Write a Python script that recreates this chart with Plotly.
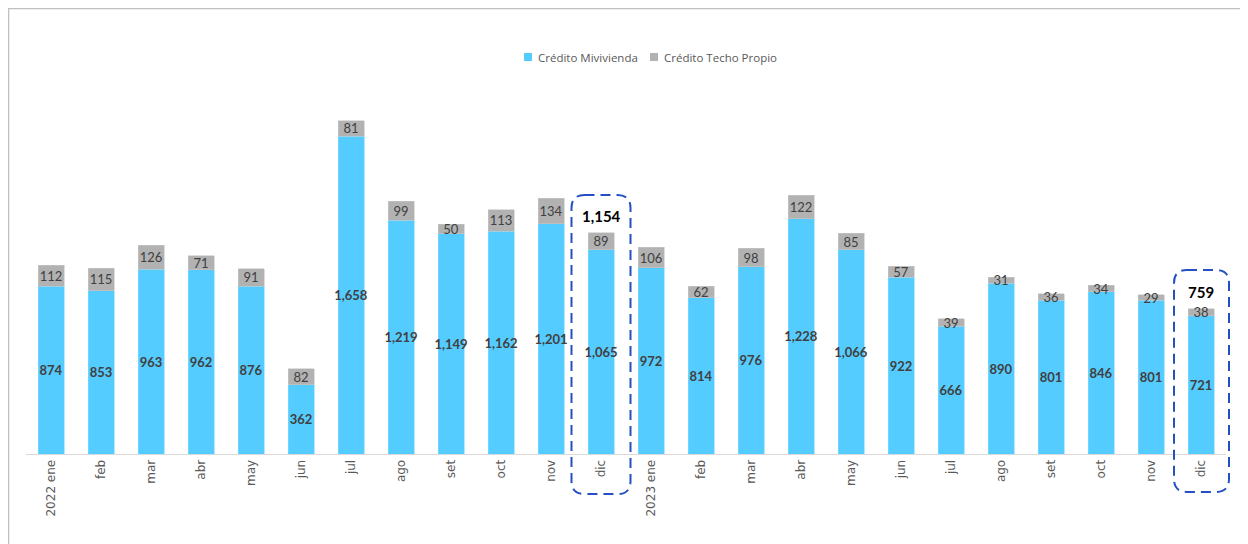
import plotly.graph_objects as go

months = ["ene", "feb", "mar", "abr", "may", "jun", "jul", "ago", "set", "oct", "nov", "dic"]
tick_labels = ["2022 ene"] + months[1:] + ["2023 ene"] + months[1:]
mivivienda = [874, 853, 963, 962, 876, 362, 1658, 1219, 1149, 1162, 1201, 1065,
              972, 814, 976, 1228, 1066, 922, 666, 890, 801, 846, 801, 721]
techo_propio = [112, 115, 126, 71, 91, 82, 81, 99, 50, 113, 134, 89,
                106, 62, 98, 122, 85, 57, 39, 31, 36, 34, 29, 38]
series_names = ["Crédito Mivivienda", "Crédito Techo Propio"]
series_colors = ["#55CCFF", "#B2B2B2"]
highlight_idx = [11, 23]

idx = list(range(len(tick_labels)))
totals = [a + b for a, b in zip(mivivienda, techo_propio)]

YMAX = 1899
N = len(idx)

# layout geometry (pixels)
ML, MR, MT, MB = 18, 30, 82, 98
W, H = 1248, 544
PW = W - ML - MR
PH = H - MT - MB


def px_x(px):
    return (px - ML) / PW


def px_y(py):
    return (H - MB - py) / PH


LABEL_FONT = "Liberation Sans Narrow, Lato, sans-serif"

fig = go.Figure()
fig.add_trace(go.Bar(
    x=idx, y=mivivienda, name=series_names[0],
    marker=dict(color=series_colors[0], line=dict(color="#7FDAFF", width=0.6)),
    texttemplate="<b>%{y:,.0f}</b>", textposition="inside", insidetextanchor="middle",
    constraintext="none", textangle=0,
    textfont=dict(family=LABEL_FONT, size=13, color="#404040"),
    hoverinfo="skip",
))
fig.add_trace(go.Bar(
    x=idx, y=techo_propio, name=series_names[1],
    marker=dict(color=series_colors[1], line=dict(color="#C8C8C8", width=0.6)),
    texttemplate="%{y:,.0f}", textposition="inside", insidetextanchor="middle",
    constraintext="none", textangle=0,
    textfont=dict(family=LABEL_FONT, size=13, color="#404040"),
    hoverinfo="skip",
))

# total labels for the highlighted months
for i in highlight_idx:
    fig.add_annotation(
        x=i, y=totals[i], xref="x", yref="y", text=f"<b>{totals[i]:,}</b>",
        showarrow=False, yanchor="bottom", yshift=6,
        font=dict(family=LABEL_FONT, size=15, color="#000000"),
    )


def rounded_box(cx, half_w, top_val, bottom_val):
    x0 = (cx - half_w + 0.5) / N
    x1 = (cx + half_w + 0.5) / N
    y0 = bottom_val / YMAX
    y1 = top_val / YMAX
    rx = 0.26 / N
    ry = 68 / YMAX
    return (f"M {x0+rx},{y1} L {x1-rx},{y1} Q {x1},{y1} {x1},{y1-ry} "
            f"L {x1},{y0+ry} Q {x1},{y0} {x1-rx},{y0} "
            f"L {x0+rx},{y0} Q {x0},{y0} {x0},{y0+ry} "
            f"L {x0},{y1-ry} Q {x0},{y1} {x0+rx},{y1} Z")


box_specs = {11: (0.0, 0.59, 197, -209), 23: (0.01, 0.55, 201, -198)}
for i in highlight_idx:
    dx, hw, pad_top, bot = box_specs[i]
    fig.add_shape(
        type="path", xref="paper", yref="paper",
        path=rounded_box(i + dx, hw, totals[i] + pad_top, bot),
        line=dict(color="#2450C4", width=2, dash="10px,6px"),
        fillcolor="rgba(0,0,0,0)",
    )

# outer frame (top and left edges visible)
fig.add_shape(type="line", xref="paper", yref="paper", x0=px_x(0), x1=px_x(W + 5), y0=px_y(0), y1=px_y(0),
              line=dict(color="#BFBFBF", width=2.5))
fig.add_shape(type="line", xref="paper", yref="paper", x0=px_x(0), x1=px_x(0), y0=px_y(0), y1=px_y(H + 5),
              line=dict(color="#BFBFBF", width=2.5))

# legend drawn manually (compact Excel-style)
legend_pos = [(516, 528), (642, 654)]
for (mx, tx), name, col in zip(legend_pos, series_names, series_colors):
    fig.add_shape(type="rect", xref="paper", yref="paper",
                  x0=px_x(mx), x1=px_x(mx + 8), y0=px_y(45), y1=px_y(53),
                  fillcolor=col, line=dict(width=0))
    fig.add_annotation(x=px_x(tx), y=px_y(49), xref="paper", yref="paper", text=name,
                       showarrow=False, xanchor="left", yanchor="middle",
                       font=dict(family="Open Sans, Noto Sans, sans-serif", size=11.5, color="#595959"))

fig.update_layout(
    barmode="stack",
    bargap=0.48,
    width=W, height=H,
    margin=dict(l=ML, r=MR, t=MT, b=MB),
    paper_bgcolor="white", plot_bgcolor="white",
    showlegend=False,
    xaxis=dict(
        range=[-0.5, N - 0.5], tickmode="array", tickvals=idx, ticktext=tick_labels,
        tickangle=-90, showline=True, linecolor="#D9D9D9", linewidth=1,
        showgrid=False, zeroline=False, ticks="",
        tickfont=dict(family="DejaVu Sans, sans-serif", size=12, color="#595959"),
    ),
    yaxis=dict(range=[0, YMAX], visible=False, showgrid=False, zeroline=False),
)

fig.write_html("out.html")
